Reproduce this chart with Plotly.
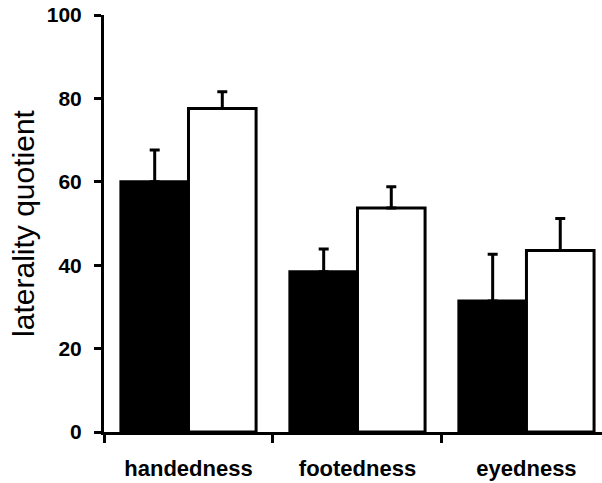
import plotly.graph_objects as go

categories = ["handedness", "footedness", "eyedness"]
group_a = [60.0, 38.4, 31.4]
group_a_err = [7.6, 5.5, 11.2]
group_b = [77.6, 53.7, 43.5]
group_b_err = [4.0, 5.1, 7.7]
y_ticks = [0, 20, 40, 60, 80, 100]

FONT = "Liberation Sans, Arial, sans-serif"

fig = go.Figure()
fig.add_trace(go.Bar(
    x=categories, y=group_a,
    marker=dict(color="black", line=dict(color="black", width=3)),
    error_y=dict(type="data", array=group_a_err, arrayminus=[0]*3, symmetric=False,
                 color="black", thickness=3, width=5),
    showlegend=False,
))
fig.add_trace(go.Bar(
    x=categories, y=group_b,
    marker=dict(color="white", line=dict(color="black", width=3)),
    error_y=dict(type="data", array=group_b_err, arrayminus=[0]*3, symmetric=False,
                 color="black", thickness=3, width=5),
    showlegend=False,
))

fig.update_layout(
    width=602, height=483,
    margin=dict(l=104, r=0, t=15, b=51, autoexpand=False),
    paper_bgcolor="white", plot_bgcolor="white",
    barmode="group", bargap=0.2, bargroupgap=0,
    font=dict(family=FONT, color="black"),
)
fig.update_xaxes(
    range=[-0.5, 2.447],
    automargin=False,
    showline=True, linecolor="black", linewidth=3,
    ticks="outside", tickson="boundaries", ticklen=8, tickwidth=3, tickcolor="black",
    tickfont=dict(family=FONT, size=22, color="black", weight="bold"),
    ticklabelstandoff=15,
    showgrid=False, zeroline=False,
)
fig.update_yaxes(
    range=[0, 100],
    automargin=False,
    tickvals=y_ticks,
    showline=True, linecolor="black", linewidth=3,
    ticks="outside", ticklen=7, tickwidth=3, tickcolor="black",
    tickfont=dict(family=FONT, size=21, color="black", weight="bold"),
    ticklabelstandoff=8,
    title=dict(text="laterality quotient", font=dict(family=FONT, size=30, color="black"), standoff=4),
    showgrid=False, zeroline=False,
)

fig.write_html(
    "out.html",
    config={"displayModeBar": False},
    post_script="document.body.style.margin='0';document.body.style.overflow='hidden';",
)
